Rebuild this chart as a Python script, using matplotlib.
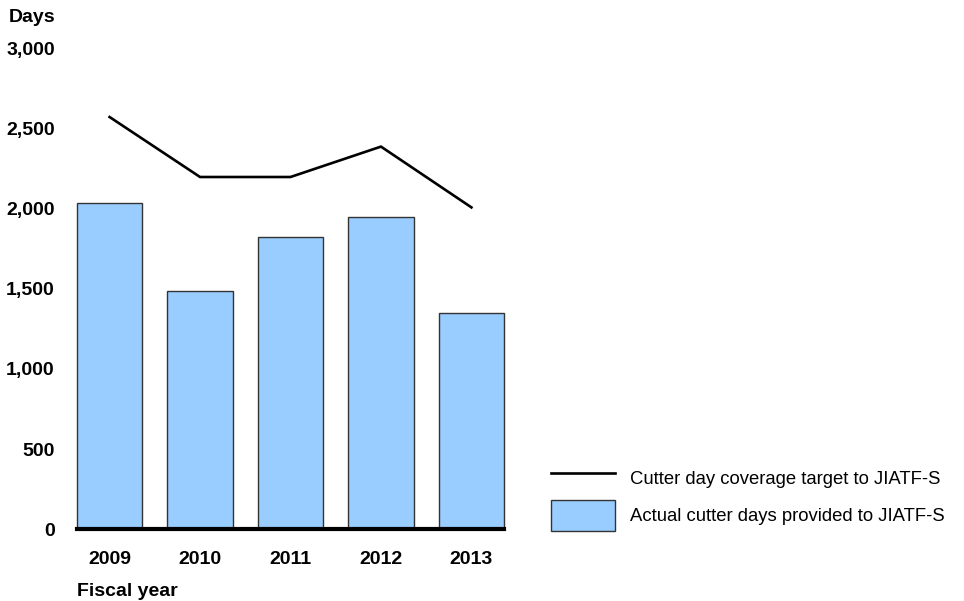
import matplotlib
matplotlib.use("Agg")
import matplotlib.pyplot as plt
from matplotlib.patches import Patch
from matplotlib.lines import Line2D
from matplotlib.ticker import FuncFormatter

plt.rcParams['font.family'] = ['Liberation Sans', 'DejaVu Sans']

years = ["2009", "2010", "2011", "2012", "2013"]
actual_days = [2040, 1490, 1825, 1950, 1350]
target_days = [2575, 2200, 2200, 2390, 2010]
y_ticks = [0, 500, 1000, 1500, 2000, 2500, 3000]

bar_color = "#99CCFF"
fs = 14

fig = plt.figure(figsize=(9.64, 6.01), dpi=100)
ax = fig.add_axes([77 / 964, 72 / 601, 427 / 964, 480 / 601])

x = list(range(len(years)))
ax.bar(x, actual_days, width=0.72, color=bar_color, edgecolor="#333333",
       linewidth=1.0, zorder=2, clip_on=False)
ax.plot(x, target_days, color="black", linewidth=1.9, zorder=3,
        solid_joinstyle="miter", clip_on=False)
ax.axhline(0, color="black", linewidth=3.0, zorder=4, clip_on=False)

ax.set_xlim(-0.36, len(years) - 1 + 0.36)
ax.set_ylim(0, 3000)
ax.set_yticks(y_ticks)
ax.yaxis.set_major_formatter(FuncFormatter(lambda v, p: f"{int(v):,}"))
ax.set_xticks(x)
ax.set_xticklabels(years)

for s in ax.spines.values():
    s.set_visible(False)
ax.tick_params(axis="both", length=0, labelsize=fs)
ax.tick_params(axis="y", pad=16)
ax.tick_params(axis="x", pad=16)
for lab in ax.get_xticklabels() + ax.get_yticklabels():
    lab.set_fontweight("bold")

fig.text(9 / 964, 1 - 17 / 601, "Days", fontsize=fs, fontweight="bold",
         ha="left", va="center")
fig.text(77 / 964, 1 - 591 / 601, "Fiscal year", fontsize=fs,
         fontweight="bold", ha="left", va="center")

handles = [Line2D([], [], color="black", linewidth=1.9),
           Patch(facecolor=bar_color, edgecolor="#333333", linewidth=1.0)]
labels = ["Cutter day coverage target to JIATF-S",
          "Actual cutter days provided to JIATF-S"]
fig.legend(handles, labels, loc="upper left",
           bbox_to_anchor=(551 / 964, 1 - 462.5 / 601),
           frameon=False, fontsize=13.3, borderpad=0, borderaxespad=0,
           handlelength=3.45, handleheight=2.2, handletextpad=0.85,
           labelspacing=0.35)

fig.savefig("out.png", dpi=100)
